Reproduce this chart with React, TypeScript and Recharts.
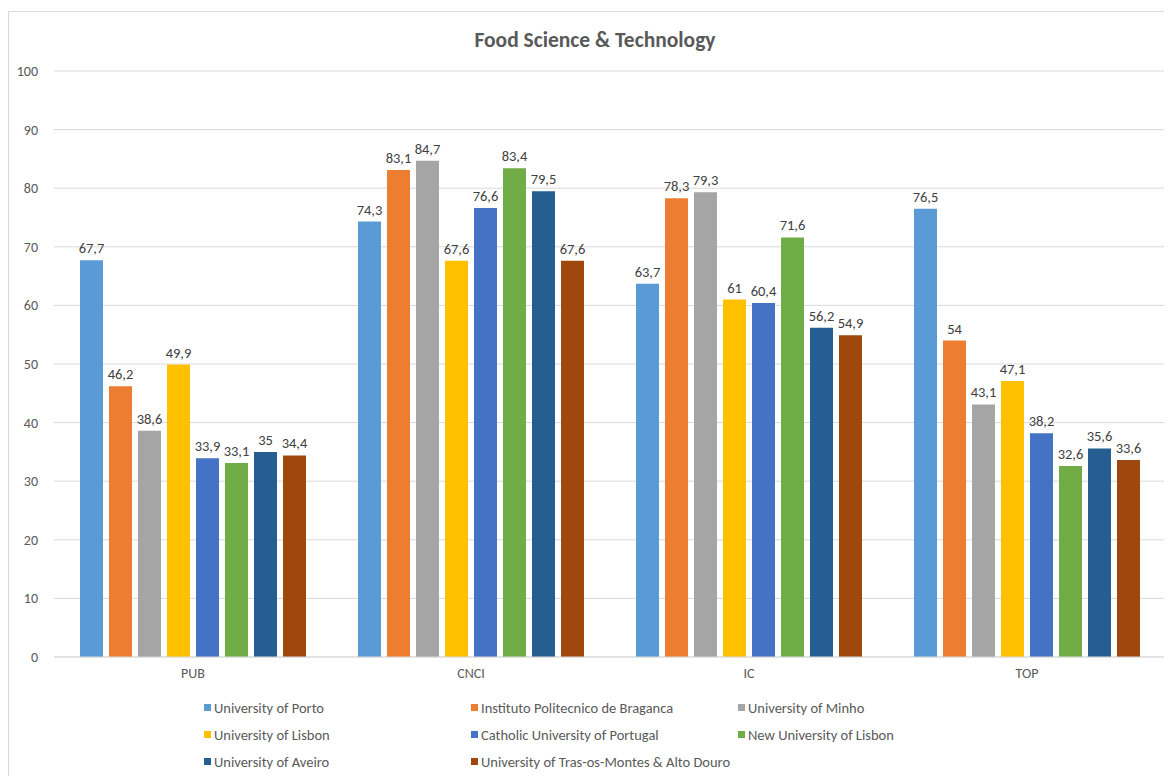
import { BarChart, Bar, XAxis, YAxis, CartesianGrid, Legend, LabelList } from 'recharts'

const categories = ['PUB', 'CNCI', 'IC', 'TOP']

const universities = [
  'University of Porto',
  'Instituto Politecnico de Braganca',
  'University of Minho',
  'University of Lisbon',
  'Catholic University of Portugal',
  'New University of Lisbon',
  'University of Aveiro',
  'University of Tras-os-Montes & Alto Douro',
]

const colors = ['#5B9BD5', '#ED7D31', '#A5A5A5', '#FFC000', '#4472C4', '#70AD47', '#255E91', '#9E480E']

// one list per university, in category order PUB, CNCI, IC, TOP
const porto = [67.7, 74.3, 63.7, 76.5]
const braganca = [46.2, 83.1, 78.3, 54]
const minho = [38.6, 84.7, 79.3, 43.1]
const lisbon = [49.9, 67.6, 61, 47.1]
const catholic = [33.9, 76.6, 60.4, 38.2]
const newLisbon = [33.1, 83.4, 71.6, 32.6]
const aveiro = [35, 79.5, 56.2, 35.6]
const trasMontes = [34.4, 67.6, 54.9, 33.6]

const yTicks = [0, 10, 20, 30, 40, 50, 60, 70, 80, 90, 100]

const seriesValues = [porto, braganca, minho, lisbon, catholic, newLisbon, aveiro, trasMontes]

const data = categories.map((c, i) => {
  const row: Record<string, string | number> = { name: c }
  universities.forEach((u, j) => {
    row['s' + j] = seriesValues[j][i]
  })
  return row
})

const FONT = 'Carlito, Lato, sans-serif'

const fmt = (v: any) => String(v).replace('.', ',')

function LegendBox() {
  return (
    <div style={{ position: 'relative', height: 81, width: 1163, fontFamily: FONT }}>
      {universities.map((u, i) => {
        const col = i % 3
        const row = Math.floor(i / 3)
        return (
          <div
            key={u}
            style={{
              position: 'absolute',
              left: 195 + col * 267,
              top: row * 27,
              height: 27,
              display: 'flex',
              alignItems: 'center',
              fontSize: 14.5,
              color: '#595959',
              whiteSpace: 'nowrap',
            }}
          >
            <span style={{ width: 7, height: 7, background: colors[i], marginRight: 3, display: 'inline-block' }} />
            {u}
          </div>
        )
      })}
    </div>
  )
}

export default function App() {
  return (
    <div
      style={{
        position: 'relative',
        marginTop: 3,
        width: 1163,
        height: 764,
        borderTop: '1px solid #d9d9d9',
        borderLeft: '1px solid #d9d9d9',
        fontFamily: FONT,
        overflow: 'hidden',
      }}
    >
      <div
        style={{
          position: 'absolute',
          top: 15,
          left: 0,
          width: 1172,
          textAlign: 'center',
          fontSize: 21.5,
          fontWeight: 'bold',
          color: '#595959',
          zIndex: 2,
        }}
      >
        Food Science &amp; Technology
      </div>
      <BarChart
        width={1163}
        height={764}
        data={data}
        margin={{ top: 59, right: 6, left: 0, bottom: 8 }}
        barSize={23}
        barGap={6}
      >
        <CartesianGrid vertical={false} stroke="#d9d9d9" strokeWidth={1} />
        <XAxis
          dataKey="name"
          height={30}
          tickLine={false}
          axisLine={{ stroke: '#d9d9d9' }}
          tick={{ fill: '#595959', fontSize: 14, fontFamily: FONT }}
          tickMargin={5}
        />
        <YAxis
          width={45}
          domain={[0, 100]}
          ticks={yTicks}
          axisLine={false}
          tickLine={false}
          tickMargin={10}
          tick={{ fill: '#595959', fontSize: 14, fontFamily: FONT }}
        />
        <Legend
          content={() => <LegendBox />}
          wrapperStyle={{ top: 682, bottom: 'auto', left: 0, width: 1163 }}
        />
        {universities.map((u, j) => (
          <Bar key={u} dataKey={'s' + j} name={u} fill={colors[j]} isAnimationActive={false}>
            <LabelList
              dataKey={'s' + j}
              position="top"
              offset={7}
              formatter={fmt}
              style={{ fill: '#404040', fontSize: 14.5, fontFamily: FONT }}
            />
          </Bar>
        ))}
      </BarChart>
    </div>
  )
}
